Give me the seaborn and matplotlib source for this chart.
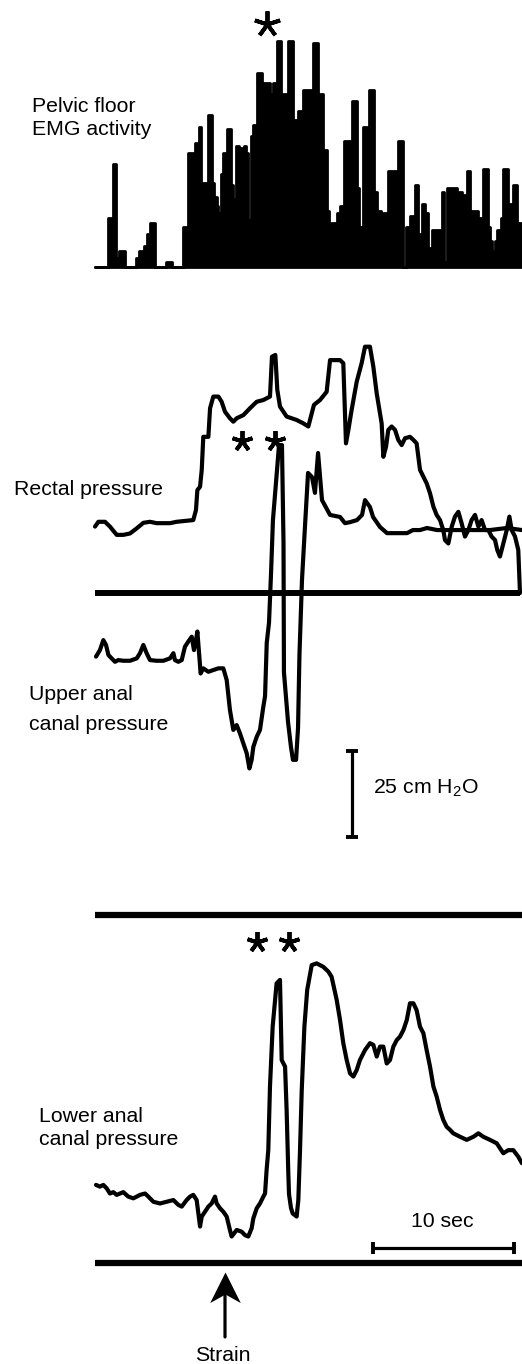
import matplotlib
matplotlib.use("Agg")
import matplotlib.pyplot as plt
from matplotlib.path import Path
import numpy as np
import pandas as pd
import seaborn as sns

# ---------------- data (time in s, pressure in cm H2O, EMG in arbitrary units) -------------
emg_edges = [0.00, 0.95, 1.25, 1.49, 1.73, 2.13, 2.91, 3.14, 3.48, 3.71, 3.90, 4.26, 5.04, 5.44,
             6.26, 6.57, 6.93, 7.09, 7.26, 7.40, 7.52, 8.04, 8.27, 8.44, 8.63, 8.75, 8.91, 9.10,
             9.22, 9.39, 9.62, 9.81, 10.00, 10.21, 10.40, 10.57, 10.71, 10.87, 11.04, 11.18, 11.51,
             11.82, 12.41, 12.60, 12.88, 13.17, 13.36, 13.71, 14.07, 14.42, 14.78, 15.48, 15.84,
             16.19, 16.43, 16.57, 16.71, 17.19, 17.38, 17.66, 18.20, 18.56, 18.72, 19.03, 19.27,
             19.46, 19.79, 20.02, 20.26, 20.45, 20.76, 21.51, 21.87, 22.06, 22.34, 22.70, 22.93,
             23.17, 23.40, 23.64, 23.88, 24.59, 24.75, 24.99, 25.65, 25.84, 26.00, 26.36, 26.60,
             27.19, 27.54, 27.90, 28.01, 28.13, 28.37, 28.53, 28.77, 28.96, 29.31, 29.67, 29.91,
             30.02, 30.28]
emg_amp = [0, 21, 44, 4, 7, 0, 4, 7, 9, 14, 19, 0, 2, 0,
           17, 49, 34, 53, 36, 60, 36, 65, 36, 30, 26, 23, 40, 49,
           44, 59, 35, 29, 52, 51, 28, 52, 49, 20, 56, 61, 83,
           79, 74, 79, 97, 70, 74, 97, 63, 67, 76, 96, 74,
           50, 24, 10, 19, 23, 26, 54, 71, 34, 17, 60, 32,
           76, 32, 24, 16, 23, 41, 54, 0, 17, 22, 35, 14,
           27, 23, 8, 16, 32, 2, 34, 27, 32, 31, 41, 24,
           21, 42, 17, 11, 7, 11, 16, 21, 42, 27, 35, 11,
           19]

rectal_t = [0.00, 0.24, 0.71, 1.06, 1.54, 2.01, 2.48, 2.96, 3.43, 3.90, 4.37, 5.32, 5.79, 6.50,
            6.97, 7.16, 7.26, 7.45, 7.57, 7.68, 8.04, 8.16, 8.39, 8.75, 8.98, 9.22, 9.57, 9.81,
            10.05, 10.52, 10.99, 11.47, 11.94, 12.41, 12.55, 12.79, 12.93, 13.12, 13.59, 14.30,
            14.78, 15.13, 15.37, 15.53, 15.96, 16.43, 16.67, 17.38, 17.61, 17.80, 17.97, 18.20,
            18.56, 18.91, 19.15, 19.50, 19.74, 19.98, 20.33, 20.45, 20.64, 20.80, 21.04, 21.28,
            21.51, 21.75, 21.99, 22.34, 22.58, 22.81, 23.05, 23.29, 23.52, 23.76, 24.00, 24.23,
            24.47, 24.70, 24.82, 25.06, 25.30, 25.53, 25.77, 26.00, 26.24, 26.48, 26.71, 26.95,
            27.19, 27.42, 27.66, 27.90, 28.13, 28.37, 28.53, 28.72, 28.96, 29.20, 29.39, 29.55,
            29.79, 30.02, 30.14]
rectal_p = [19.3, 20.7, 20.7, 19.3, 16.9, 16.9, 17.3, 18.8, 20.4, 20.7, 20.3, 20.3, 20.7, 21.0,
            21.2, 24.1, 29.9, 30.9, 35.8, 45.4, 45.4, 53.7, 57.1, 57.1, 55.6, 52.7, 50.8, 49.8,
            50.8, 51.7, 53.7, 55.6, 56.1, 57.1, 68.7, 69.2, 59.0, 54.2, 51.3, 50.3,
            49.3, 48.4, 52.2, 54.7, 56.1, 58.5, 67.7, 67.7, 66.8, 43.5, 47.4, 53.2,
            61.4, 66.8, 71.6, 71.6, 65.8, 58.0, 49.3, 39.6, 42.5, 47.4, 48.4, 47.4,
            44.5, 43.0, 45.0, 45.4, 44.5, 43.5, 35.8, 33.8, 31.9, 29.0, 25.1, 22.7,
            21.2, 18.3, 15.4, 14.4, 19.3, 22.2, 23.6, 20.3, 16.4, 18.3, 21.2, 22.7,
            19.3, 21.2, 18.3, 18.3, 16.4, 15.4, 12.5, 10.6, 14.4, 18.3, 22.2, 18.3,
            16.4, 12.5, 0.0]

upper_t = [0.07, 0.35, 0.59, 0.78, 0.95, 1.18, 1.42, 1.65, 2.01, 2.48, 2.96, 3.19, 3.43, 3.66,
           3.90, 4.37, 4.85, 5.32, 5.56, 5.67, 5.91, 6.15, 6.38, 6.62, 6.86, 7.02, 7.16, 7.26,
           7.40, 7.49, 7.68, 8.04, 8.39, 8.75, 9.10, 9.34, 9.57, 9.69, 9.81, 10.05, 10.28, 10.52,
           10.76, 10.95, 11.11, 11.23, 11.47, 11.70, 11.94, 12.06, 12.18, 12.34, 12.48, 12.62,
           12.91, 13.05, 13.26, 13.37, 13.40, 13.69, 13.90, 14.04, 14.26, 14.40, 14.50, 14.68,
           14.89, 15.11, 15.39, 15.60, 15.82, 16.10, 16.67, 17.38, 17.73, 18.09, 18.58, 18.94,
           19.15, 19.50, 19.72, 20.21, 20.71, 21.42, 22.13, 22.55, 23.05, 23.55, 24.26, 25.67,
           28.01, 29.22, 30.28]
upper_p = [-18.5, -16.6, -13.7, -15.1, -18.0, -19.0, -20.0, -19.5, -19.7, -19.7, -19.0, -17.5, -15.1, -17.5,
           -19.5, -19.7, -19.7, -19.0, -17.5, -19.5, -20.0, -19.5, -15.6, -14.1, -12.7, -16.6, -13.7, -11.2,
           -18.5, -23.4, -21.9, -22.9, -22.4, -21.9, -21.9, -25.3, -34.0, -36.9, -39.8, -38.4, -40.8, -43.7,
           -46.6, -51.0, -48.5, -44.7, -41.8, -39.8, -33.0, -30.0, -14.5, -8.7, 5.2, 21.2,
           35.8, 43.0, 43.0, 14.5, -23.0, -37.5, -44.8, -48.5, -48.5, -39.2, -18.0, 3.8,
           19.2, 34.9, 33.7, 29.1, 40.7, 27.0, 22.7, 22.1, 20.3, 20.6, 21.2, 22.7,
           27.0, 25.0, 22.1, 19.2, 17.4, 17.4, 17.4, 18.3, 18.3, 18.9, 18.3, 18.3,
           18.3, 18.9, 18.3]

lower_t = [0.07, 0.35, 0.59, 0.83, 1.06, 1.30, 1.54, 1.77, 2.01, 2.36, 2.72, 2.96, 3.19, 3.55,
           3.78, 4.14, 4.61, 5.08, 5.56, 5.91, 6.15, 6.50, 6.74, 6.97, 7.21, 7.45, 7.57, 7.80,
           8.04, 8.27, 8.51, 8.63, 8.87, 9.10, 9.34, 9.57, 9.69, 10.05, 10.40, 10.64, 10.87, 11.11,
           11.23, 11.47, 11.70, 11.94, 12.06, 12.17, 12.29, 12.41, 12.60, 12.88, 13.12, 13.24,
           13.48, 13.59, 13.71, 13.76, 13.90, 14.02, 14.30, 14.42, 14.54, 14.66, 14.85, 15.05,
           15.37, 15.72, 16.19, 16.55, 16.78, 17.14, 17.38, 17.61, 17.85, 18.09, 18.32, 18.56,
           18.79, 19.15, 19.50, 19.74, 19.98, 20.21, 20.45, 20.69, 20.92, 21.16, 21.40, 21.63,
           21.87, 22.11, 22.34, 22.58, 22.81, 23.05, 23.29, 23.52, 23.76, 24.00, 24.23, 24.47,
           24.70, 24.94, 25.18, 25.41, 25.89, 26.36, 26.84, 27.19, 27.54, 28.01, 28.49, 28.96,
           29.31, 29.67, 30.02, 30.28]
lower_p = [22.7, 22.2, 22.7, 21.7, 20.2, 20.6, 19.8, 20.2, 20.6, 19.3, 18.8, 19.3, 19.8, 20.2,
           19.3, 17.8, 17.3, 17.8, 18.3, 16.9, 16.4, 18.3, 19.3, 19.8, 18.3, 10.6, 13.5, 14.9,
           16.4, 17.3, 19.3, 17.3, 15.9, 14.9, 13.5, 9.6, 7.7, 9.6, 9.1, 8.1, 7.7, 10.1,
           13.0, 15.9, 17.3, 19.3, 20.2, 27.0, 32.8, 51.3, 68.7, 81.3, 82.3, 59.0,
           57.1, 44.5, 26.1, 20.0, 16.0, 14.4, 13.5, 18.3, 32.8, 50.0, 68.7, 79.4,
           86.6, 87.1, 86.1, 84.7, 83.2, 76.5, 70.6, 63.9, 59.0, 55.1, 54.2, 56.1,
           59.0, 61.9, 63.9, 63.4, 60.0, 62.9, 62.9, 58.0, 59.0, 62.9, 64.8, 65.8,
           67.7, 70.6, 75.5, 75.5, 73.5, 68.7, 66.8, 61.9, 57.1, 51.3, 48.4, 44.5,
           41.6, 39.6, 38.7, 37.7, 36.7, 35.8, 36.7, 37.7, 36.7, 35.8, 34.8, 31.9,
           32.8, 32.8, 30.9, 29.0]

# reference lines / annotations
rectal_ref_p = 0.0
rectal_ref_span = (0.0, 30.14)
lower_ref_p = [0.0, 101.2]
lower_ref_span = (0.0, 30.28)
emg_star = ([12.2], [104])
press_star = ([10.45, 12.77], [44.3, 44.3])
lower_star = ([11.49, 13.76], [93.3, 93.3])
cal_pressure = 25      # cm H2O
cal_p_pos = (18.23, -71.0)
cal_time = 10          # s
cal_t_pos = (19.7, 4.4)
strain_t = 9.22
strain_arrow = (-21.5, -2.6)

# ---------------- style ----------------
sns.set_style("white")
plt.rcParams['font.family'] = ['Liberation Sans', 'DejaVu Sans']
plt.rcParams['mathtext.fontset'] = 'custom'
plt.rcParams['mathtext.rm'] = 'Liberation Sans'
plt.rcParams['mathtext.it'] = 'Liberation Sans:italic'
plt.rcParams['mathtext.default'] = 'regular'

W, H = 522, 1364
X0_PX, PX_PER_S = 95, 14.1
fig = plt.figure(figsize=(W / 100, H / 100), dpi=100)
fig.patch.set_facecolor('white')


def band_axes(top_px, bot_px, zero_px, px_per_unit):
    ax = fig.add_axes([0, 1 - bot_px / H, 1, (bot_px - top_px) / H])
    ax.set_xlim(-X0_PX / PX_PER_S, (W - X0_PX) / PX_PER_S)
    ax.set_ylim(-(bot_px - zero_px) / px_per_unit, (zero_px - top_px) / px_per_unit)
    ax.set_axis_off()
    return ax


LW = 3.0
star_kw = dict(marker=(5, 2, 0), linestyle='none', color='black', markersize=15, markeredgewidth=2.8)

# ---- EMG ----
ax_e = band_axes(0, 280, 267, 7 / 3)
centers = [(a + b) / 2 for a, b in zip(emg_edges[:-1], emg_edges[1:])]
sns.histplot(x=centers, weights=emg_amp, bins=emg_edges, element='step', fill=True,
             color='black', alpha=1, linewidth=2.0, edgecolor='black', ax=ax_e)
ax_e.set_axis_off()
ax_e.plot(*emg_star, **dict(star_kw, markersize=19))

# ---- rectal / upper anal ----
ax_p = band_axes(300, 880, 593, 3.44)
df_r = pd.DataFrame({'t': rectal_t, 'p': rectal_p})
df_u = pd.DataFrame({'t': upper_t, 'p': upper_p})
sns.lineplot(data=df_r, x='t', y='p', sort=False, estimator=None, color='black', linewidth=LW, ax=ax_p)
sns.lineplot(data=df_u, x='t', y='p', sort=False, estimator=None, color='black', linewidth=LW, ax=ax_p)
ax_p.hlines(rectal_ref_p, *rectal_ref_span, color='black', linewidth=4.3)
ax_p.plot(*press_star, **star_kw)
ax_p.errorbar([cal_p_pos[0]], [cal_p_pos[1] + cal_pressure / 2], yerr=[cal_pressure / 2],
              color='black', elinewidth=2.3, capsize=4.5, capthick=2.8)
ax_p.set_axis_off()

# ---- lower anal ----
ax_l = band_axes(880, 1364, 1263, 3.44)
df_l = pd.DataFrame({'t': lower_t, 'p': lower_p})
sns.lineplot(data=df_l, x='t', y='p', sort=False, estimator=None, color='black', linewidth=LW, ax=ax_l)
ax_l.hlines(lower_ref_p, *lower_ref_span, color='black', linewidth=4.5)
ax_l.plot(*lower_star, **star_kw)
ax_l.errorbar([cal_t_pos[0] + cal_time / 2], [cal_t_pos[1]], xerr=[cal_time / 2],
              color='black', elinewidth=2.3, capsize=4.0, capthick=2.8)
# strain arrow: shaft + barbed head marker (tip at the marker origin)
ax_l.annotate('', xy=(strain_t, strain_arrow[1] - 4), xytext=(strain_t, strain_arrow[0]),
              arrowprops=dict(arrowstyle='-', lw=2.3, color='black', shrinkA=0, shrinkB=0))
head = Path([(0, 0), (-0.5, -1.0), (0, -0.72), (0.5, -1.0), (0, 0)],
            [Path.MOVETO, Path.LINETO, Path.LINETO, Path.LINETO, Path.CLOSEPOLY])
ax_l.plot([strain_t], [strain_arrow[1]], marker=head, markersize=44, color='black',
          markeredgewidth=0, linestyle='none')
ax_l.set_axis_off()

# ---- labels ----
FS = 15.3


def label(x_px, y_px, s, ha='left'):
    fig.text(x_px / W, 1 - y_px / H, s, ha=ha, va='baseline', fontsize=FS, color='black')


label(32, 112, 'Pelvic floor')
label(32, 135, 'EMG activity')
label(14, 495, 'Rectal pressure')
label(29, 700, 'Upper anal')
label(29, 730, 'canal pressure')
label(373, 794, '25 cm H$_2$O')
label(39, 1122, 'Lower anal')
label(39, 1145, 'canal pressure')
label(442, 1227, '10 sec', ha='center')
label(223, 1361, 'Strain', ha='center')

fig.savefig('out.png', dpi=100, facecolor='white')
